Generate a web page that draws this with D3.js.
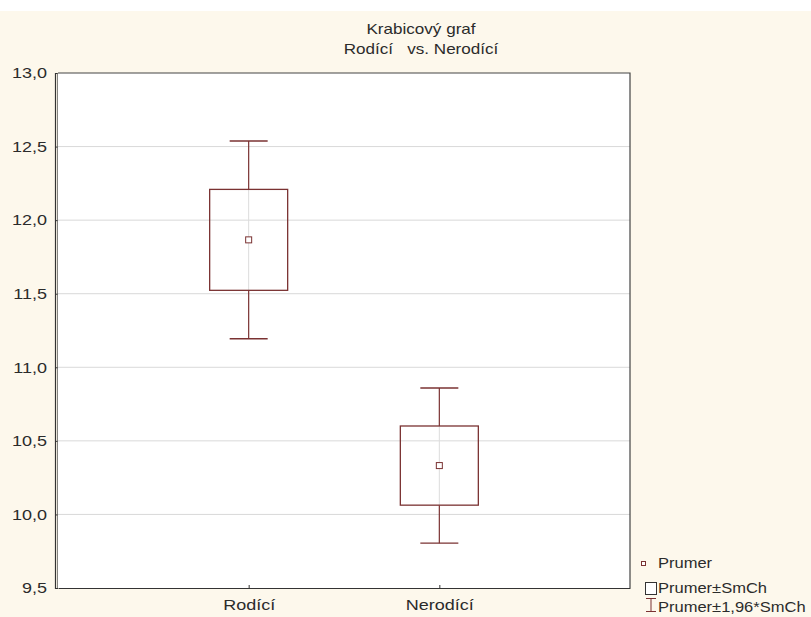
<!DOCTYPE html>
<html>
<head>
<meta charset="utf-8">
<script src="https://cdnjs.cloudflare.com/ajax/libs/d3/7.8.5/d3.min.js"></script>
<style>
  html, body { margin: 0; padding: 0; background: #ffffff; }
  svg { display: block; font-family: "Liberation Sans", Arial, sans-serif; }
  text { white-space: pre; }
</style>
</head>
<body>
<svg id="chart" width="811" height="617"></svg>
<script>
// Group names, means and standard errors
const groups = ["Rodící", "Nerodící"];
const means = [11.866, 10.332];
const stdErrors = [0.343, 0.269];
const zFactor = 1.96;
const yTicks = [9.5, 10.0, 10.5, 11.0, 11.5, 12.0, 12.5, 13.0];
const titleLines = ["Krabicový graf", "Rodící   vs. Nerodící"];
const legendLabels = ["Prumer", "Prumer±SmCh", "Prumer±1,96*SmCh"];

const W = 811, H = 617;
const plot = { left: 58, right: 630, top: 73, bottom: 588 };
const ink = "#7a3232";
const textInk = "#2b2b2b";
const sx = 1.2; // horizontal stretch of the lettering

const svg = d3.select("#chart");

// page background: white strip on top, cream below
svg.append("rect").attr("x", 0).attr("y", 0).attr("width", W).attr("height", H).attr("fill", "#ffffff");
svg.append("rect").attr("x", 0).attr("y", 11).attr("width", W).attr("height", H - 11).attr("fill", "#fdf8ec");

const x = d3.scalePoint().domain(groups).range([plot.left, plot.right]).padding(1);
const y = d3.scaleLinear().domain([9.5, 13.0]).range([plot.bottom, plot.top]);

// plot area
svg.append("rect")
  .attr("x", plot.left).attr("y", plot.top)
  .attr("width", plot.right - plot.left).attr("height", plot.bottom - plot.top)
  .attr("fill", "#ffffff");

// horizontal grid lines
svg.append("g").selectAll("line")
  .data(yTicks.filter(t => t > 9.5 && t < 13.0))
  .join("line")
  .attr("x1", plot.left).attr("x2", plot.right)
  .attr("y1", d => y(d)).attr("y2", d => y(d))
  .attr("stroke", "#d9d9d9").attr("stroke-width", 1);

// stretched text helper
function label(parent, tx, ty, str, size, anchor, stretch) {
  return parent.append("text")
    .attr("transform", `translate(${tx},${ty}) scale(${stretch || sx},1)`)
    .attr("text-anchor", anchor || "start")
    .attr("font-size", size).attr("fill", textInk)
    .text(str);
}

// title
const gt = svg.append("g");
titleLines.forEach((t, i) => label(gt, 421, 34 + i * 20, t, 14, "middle", 1.22));

// y axis
const fmt = d => d.toFixed(1).replace(".", ",");
const yAxis = d3.axisLeft(y).tickValues(yTicks).tickFormat(fmt).tickSize(-3).tickPadding(8);
const gy = svg.append("g").attr("transform", `translate(${plot.left - 3},0)`).call(yAxis);
gy.select(".domain").attr("stroke", "#333").attr("stroke-width", 1.2);
gy.selectAll(".tick line").attr("stroke", "#333");
gy.selectAll(".tick text")
  .attr("font-size", 15).attr("fill", textInk)
  .attr("font-family", "Liberation Sans, Arial, sans-serif")
  .attr("x", -8 / sx)
  .attr("transform", `scale(${sx},1)`);

// x axis
const xAxis = d3.axisBottom(x).tickSize(-3).tickPadding(11).tickSizeOuter(0);
const gx = svg.append("g").attr("transform", `translate(0,${plot.bottom})`).call(xAxis);
gx.select(".domain").attr("stroke", "#333").attr("stroke-width", 1.2);
gx.selectAll(".tick line").attr("stroke", "#333");
gx.selectAll(".tick text")
  .attr("font-size", 15).attr("fill", textInk)
  .attr("font-family", "Liberation Sans, Arial, sans-serif")
  .attr("transform", `scale(${sx},1)`);

// plot frame (top and right)
svg.append("path")
  .attr("d", `M${plot.left},${plot.top}H${plot.right}V${plot.bottom}`)
  .attr("fill", "none").attr("stroke", "#444").attr("stroke-width", 1.2);
svg.append("line")
  .attr("x1", plot.left - 0.5).attr("x2", plot.left - 0.5)
  .attr("y1", plot.top).attr("y2", plot.bottom)
  .attr("stroke", "#666").attr("stroke-width", 0.8);

// boxes
const boxW = 78, capW = 38, markS = 6;
const data = groups.map((g, i) => ({
  g, m: means[i], se: stdErrors[i],
  lo: means[i] - stdErrors[i], hi: means[i] + stdErrors[i],
  wlo: means[i] - zFactor * stdErrors[i], whi: means[i] + zFactor * stdErrors[i]
}));

const box = svg.append("g").selectAll("g").data(data).join("g");
// whiskers
box.append("line").attr("x1", d => x(d.g)).attr("x2", d => x(d.g))
  .attr("y1", d => y(d.whi)).attr("y2", d => y(d.hi)).attr("stroke", ink).attr("stroke-width", 1.2);
box.append("line").attr("x1", d => x(d.g)).attr("x2", d => x(d.g))
  .attr("y1", d => y(d.lo)).attr("y2", d => y(d.wlo)).attr("stroke", ink).attr("stroke-width", 1.2);
box.append("line").attr("x1", d => x(d.g) - capW / 2).attr("x2", d => x(d.g) + capW / 2)
  .attr("y1", d => y(d.whi)).attr("y2", d => y(d.whi)).attr("stroke", ink).attr("stroke-width", 1.4);
box.append("line").attr("x1", d => x(d.g) - capW / 2).attr("x2", d => x(d.g) + capW / 2)
  .attr("y1", d => y(d.wlo)).attr("y2", d => y(d.wlo)).attr("stroke", ink).attr("stroke-width", 1.4);
// light centre line inside the box
box.append("line").attr("x1", d => x(d.g)).attr("x2", d => x(d.g))
  .attr("y1", d => y(d.hi)).attr("y2", d => y(d.lo)).attr("stroke", "#dcdcdc").attr("stroke-width", 1);
// box
box.append("rect")
  .attr("x", d => x(d.g) - boxW / 2).attr("width", boxW)
  .attr("y", d => y(d.hi)).attr("height", d => y(d.lo) - y(d.hi))
  .attr("fill", "none").attr("stroke", ink).attr("stroke-width", 1.3);
// mean marker
box.append("rect")
  .attr("x", d => x(d.g) - markS / 2).attr("y", d => y(d.m) - markS / 2)
  .attr("width", markS).attr("height", markS)
  .attr("fill", "#ffffff").attr("stroke", ink).attr("stroke-width", 1);

// legend
const lg = svg.append("g");
lg.append("rect").attr("x", 641.5).attr("y", 561.5).attr("width", 4).attr("height", 4)
  .attr("fill", "#fff").attr("stroke", ink).attr("stroke-width", 1);
lg.append("rect").attr("x", 645.5).attr("y", 582.5).attr("width", 11).attr("height", 12)
  .attr("fill", "#fff").attr("stroke", "#333").attr("stroke-width", 1);
lg.append("path").attr("d", "M646,598.5H656M651,598.5V611.5M646,611.5H656")
  .attr("fill", "none").attr("stroke", ink).attr("stroke-width", 1);
legendLabels.forEach((t, i) => label(lg, 658, [568, 593, 612][i], t, 14, "start", 1.18));
</script>
</body>
</html>
